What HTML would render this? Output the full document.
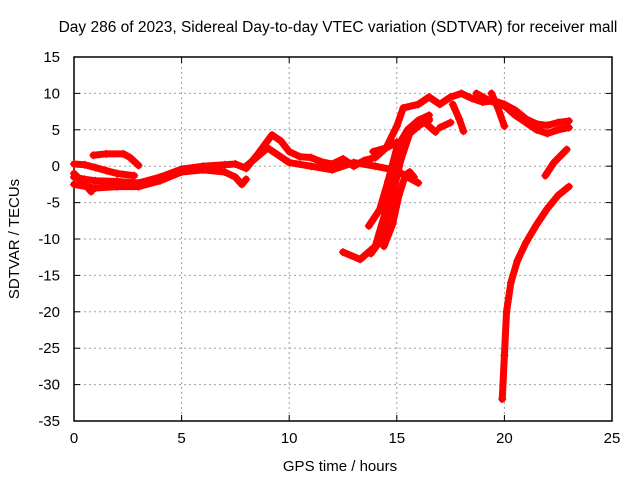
<!DOCTYPE html>
<html><head><meta charset="utf-8"><style>
body{margin:0;background:#fff;}
svg{display:block;font-family:"Liberation Sans",sans-serif;}
</style></head><body>
<svg id="c" width="640" height="480" xmlns="http://www.w3.org/2000/svg"></svg>
<script>
const xTicks=[0,5,10,15,20,25];
const yTicks=[15,10,5,0,-5,-10,-15,-20,-25,-30,-35];
const trackA=[[0,0.3],[0.5,0.2],[1,-0.2],[1.5,-0.6],[2,-1],[2.8,-1.3]];
const trackB=[[0.9,1.5],[1.5,1.7],[2.3,1.7],[2.6,1.2],[3,0.1]];
const trackC=[[0,-1.5],[0.5,-1.8],[1,-2],[2,-2.1],[3,-2.3],[4,-1.5],[5,-0.4],[6,0],[7,0.2],[7.5,0.3],[8,-0.3],[8.5,1.5],[9,3.5],[9.2,4.3],[9.6,3.5],[10,2],[10.5,1.3],[11,1.2],[11.5,0.6],[12,0.3],[12.5,1],[13,0],[13.5,0.8],[14,1.2],[14.5,2.5],[15,3.3],[15.3,2]];
const trackD=[[0,-2.5],[1,-3],[2,-2.8],[3,-2.8],[4,-2],[5,-0.8],[6,-0.5],[7,-0.8],[7.5,-1.5],[7.8,-2.5],[8,-1.8]];
const trackE=[[0,-1],[0.5,-2.5],[0.8,-3.5]];
const trackF=[[8,0],[9,2.5],[10,0.5],[11,0],[12,-0.5],[13,0.5],[14,0],[15,-0.6],[15.5,-1.5],[16,-2.3]];
const trackR1=[[13.7,-8.2],[14.2,-6],[14.6,-2],[15,2.5],[15.5,5],[16,6.3],[16.5,7]];
const trackR2=[[12.5,-11.8],[13.3,-12.8],[14,-11],[14.5,-6],[14.9,-1],[15.3,3],[15.8,5.6],[16.5,6.3]];
const trackR3=[[13.8,-12],[14.3,-10],[14.8,-4],[15.2,1],[15.6,4.5],[16,5.5],[16.5,6.5]];
const trackR4=[[14.4,-11],[14.8,-8],[15.1,-4],[15.4,-1.2],[15.6,-0.8],[15.8,-1.5]];
const trackU1=[[13.9,2],[14.5,2.5],[15,5.5],[15.3,8],[16,8.5],[16.5,9.5],[17,8.5],[17.5,9.5],[18,10],[18.5,9.3],[19,8.8],[19.5,9],[20,8.5],[20.5,7.7],[21,6.5],[21.5,5.8],[22,5.6],[22.5,6],[23,6.2]];
const trackU2=[[18.7,10],[19.3,9],[20,8.3],[20.5,7],[21,6],[21.5,5],[22,4.5],[22.5,5],[23,5.3]];
const trackU3=[[17.6,8.5],[17.9,6.5],[18.1,4.8]];
const trackU4=[[16.3,6],[16.8,4.7]];
const trackU5=[[17,5.3],[17.5,6]];
const trackU6=[[19.4,10],[19.7,8],[20,5.5]];
const trackS1=[[21.9,-1.3],[22.3,0.5],[22.9,2.3]];
const trackS2=[[19.9,-32],[20,-26],[20.1,-20],[20.3,-16],[20.6,-13],[21,-10.5],[21.5,-8],[22,-5.8],[22.5,-4],[23,-2.8]];
const tracks=[trackA,trackB,trackC,trackD,trackE,trackF,trackR1,trackR2,trackR3,trackR4,trackU1,trackU2,trackU3,trackU4,trackU5,trackU6,trackS1,trackS2];

const L=74,R=612,T=57,B=421;
const X=t=>L+(t-0)/25*(R-L);
const Y=v=>T+(15-v)/50*(B-T);
const svg=document.getElementById('c');
const NS='http://www.w3.org/2000/svg';
function mk(tag,attrs,parent){const e=document.createElementNS(NS,tag);for(const k in attrs)e.setAttribute(k,attrs[k]);(parent||svg).appendChild(e);return e;}

const grid=mk('g',{});


xTicks.forEach(t=>{
  if(t>0&&t<25){const l=mk('line',{x1:X(t),x2:X(t),y1:T,y2:B,stroke:'#a0a0a0','stroke-dasharray':'2,3'},grid);
  
  }
  mk('line',{x1:X(t),x2:X(t),y1:B,y2:B-6,stroke:'#000'});
  mk('line',{x1:X(t),x2:X(t),y1:T,y2:T+6,stroke:'#000'});
  const tx=mk('text',{x:X(t),y:B+22,'text-anchor':'middle','font-size':15,fill:'#000'});
  tx.textContent=t;
  
  
});
yTicks.forEach(v=>{
  if(v<15&&v>-35){const l=mk('line',{x1:L,x2:R,y1:Y(v),y2:Y(v),stroke:'#a0a0a0','stroke-dasharray':'2,3'},grid);
  
  }
  mk('line',{x1:L,x2:L+6,y1:Y(v),y2:Y(v),stroke:'#000'});
  mk('line',{x1:R,x2:R-6,y1:Y(v),y2:Y(v),stroke:'#000'});
  const tx=mk('text',{x:L-14,y:Y(v)+5,'text-anchor':'end','font-size':15,fill:'#000'});
  tx.textContent=v;
  
  
});
const frame=mk('rect',{x:L,y:T,width:R-L,height:B-T,fill:'none',stroke:'#000','stroke-width':1.5});



const series=mk('g',{});


tracks.forEach(tr=>{
  const pl=mk('polyline',{points:tr.map(p=>X(p[0])+','+Y(p[1])).join(' '),fill:'none',stroke:'#f00','stroke-width':7,'stroke-linejoin':'round','stroke-linecap':'round'},series);
  
  
  tr.forEach(p=>{
    const x=X(p[0]),y=Y(p[1]);
    const m=mk('path',{d:`M${x-4},${y}H${x+4}M${x},${y-4}V${y+4}`,stroke:'#f00','stroke-width':1.2},series);
    
    
  });
});

const title=mk('text',{x:338,y:32,'text-anchor':'middle','font-size':15.5,fill:'#000'});
title.textContent='Day 286 of 2023, Sidereal Day-to-day VTEC variation (SDTVAR) for receiver mall';


const xt=mk('text',{x:340,y:471,'text-anchor':'middle','font-size':15,fill:'#000'});
xt.textContent='GPS time / hours';


const yt=mk('text',{x:0,y:0,'text-anchor':'middle','font-size':15,fill:'#000',transform:'translate(19,239) rotate(-90)'});
yt.textContent='SDTVAR / TECUs';


</script>
</body></html>
